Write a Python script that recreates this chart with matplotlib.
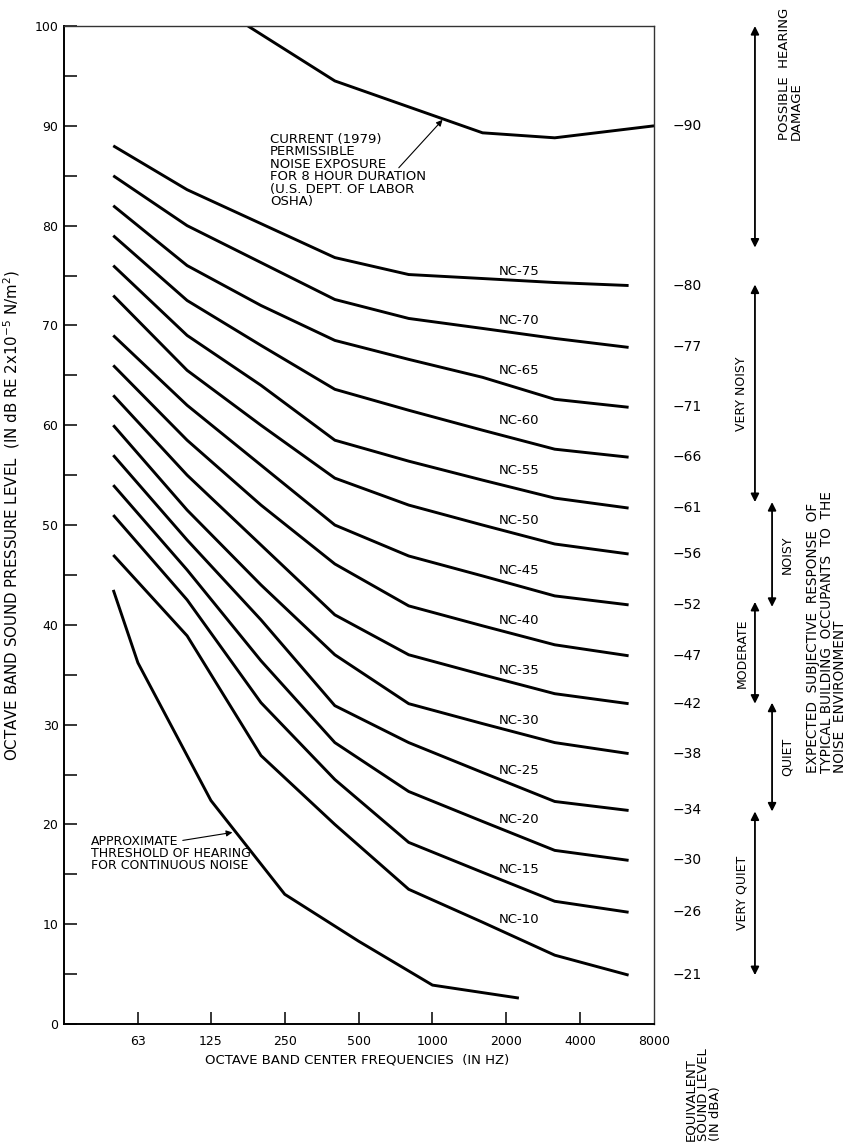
import matplotlib
matplotlib.use('Agg')
import matplotlib.pyplot as plt


# octave band points used for the NC curves (Hz)
band_freqs = [50, 100, 200, 400, 800, 1600, 3150, 6300]

nc_75 = [88, 83.6, 80.2, 76.8, 75.1, 74.7, 74.3, 74.0]
nc_70 = [85, 80.0, 76.3, 72.6, 70.7, 69.7, 68.7, 67.8]
nc_65 = [82, 76.0, 72.0, 68.5, 66.6, 64.8, 62.6, 61.8]
nc_60 = [79, 72.5, 68.0, 63.6, 61.5, 59.5, 57.6, 56.8]
nc_55 = [76, 69.0, 64.0, 58.5, 56.4, 54.5, 52.7, 51.7]
nc_50 = [73, 65.5, 60.0, 54.7, 52.0, 50.0, 48.1, 47.1]
nc_45 = [69, 62.0, 56.0, 50.0, 46.9, 44.9, 42.9, 42.0]
nc_40 = [66, 58.5, 52.0, 46.1, 41.9, 39.9, 38.0, 36.9]
nc_35 = [63, 55.0, 48.0, 41.0, 37.0, 35.0, 33.1, 32.1]
nc_30 = [60, 51.5, 44.0, 37.0, 32.1, 30.1, 28.2, 27.1]
nc_25 = [57, 48.5, 40.5, 31.9, 28.2, 25.2, 22.3, 21.4]
nc_20 = [54, 45.5, 36.4, 28.2, 23.3, 20.3, 17.4, 16.4]
nc_15 = [51, 42.5, 32.2, 24.5, 18.2, 15.2, 12.3, 11.2]
nc_10 = [47, 38.9, 26.9, 20.0, 13.5, 10.2, 6.9, 4.9]

nc_ratings = [75, 70, 65, 60, 55, 50, 45, 40, 35, 30, 25, 20, 15, 10]
nc_levels = [nc_75, nc_70, nc_65, nc_60, nc_55, nc_50, nc_45,
             nc_40, nc_35, nc_30, nc_25, nc_20, nc_15, nc_10]

# equivalent A-weighted level for each NC curve
dba_values = [80, 77, 71, 66, 61, 56, 52, 47, 42, 38, 34, 30, 26, 21]

# OSHA 8 hour permissible exposure (1979)
osha_freqs = [177, 400, 1600, 3150, 8000]
osha_levels = [100, 94.5, 89.3, 88.8, 90.0]
osha_dba = 90

# approximate threshold of hearing, continuous noise
threshold_freqs = [50, 63, 125, 250, 500, 1000, 2250]
threshold_levels = [43.5, 36.2, 22.4, 13.0, 8.3, 3.9, 2.6]

freq_ticks = [63, 125, 250, 500, 1000, 2000, 4000, 8000]

# subjective response bands
response_labels = ['VERY NOISY', 'NOISY', 'MODERATE', 'QUIET', 'VERY QUIET']
response_top = [74.1, 52.3, 42.3, 32.2, 21.3]
response_bottom = [52.3, 41.8, 32.1, 21.3, 4.9]
response_column = [0, 1, 0, 1, 0]


fig = plt.figure(figsize=(8.47, 11.42), dpi=100)
ax = fig.add_axes([0.0756, 0.1033, 0.6966, 0.8739])

line_kw = dict(color='black', linewidth=2.1, solid_joinstyle='miter', solid_capstyle='butt')

for rating, levels in zip(nc_ratings, nc_levels):
    ax.plot(band_freqs, levels, **line_kw)
    ax.text(2247, rating + 0.45, 'NC-%d' % rating, fontsize=9.5,
            ha='center', va='center')

ax.plot(osha_freqs, osha_levels, **line_kw)
ax.plot(threshold_freqs, threshold_levels, **line_kw)

ax.set_xscale('log', base=2)
ax.set_xlim(31.5, 8000)
ax.set_ylim(0, 100)
ax.set_xticks(freq_ticks)
ax.set_xticklabels([str(f) for f in freq_ticks])
ax.minorticks_off()
ax.set_yticks(range(0, 101, 10))
ax.set_yticks(range(5, 100, 10), minor=True)

ax.tick_params(axis='both', which='both', direction='in', length=9, width=1.1,
               labelsize=9)
ax.tick_params(axis='x', pad=8)
ax.tick_params(axis='y', pad=4)
ax.xaxis.get_major_ticks()[-1].tick1line.set_visible(False)
for side in ['left', 'bottom']:
    ax.spines[side].set_linewidth(1.4)
for side in ['top', 'right']:
    ax.spines[side].set_linewidth(1.0)
    ax.spines[side].set_color('#333333')

ax.set_xlabel('OCTAVE BAND CENTER FREQUENCIES  (IN HZ)', fontsize=9.5)
ax.xaxis.set_label_coords(0.497, -0.030)
ax.set_ylabel(r'OCTAVE BAND SOUND PRESSURE LEVEL  (IN dB RE 2x10$^{-5}$ N/m$^2$)',
              fontsize=10.8)
ax.yaxis.set_label_coords(-0.071, 0.51)

# callouts
ax.text(218, 89.3, 'CURRENT (1979)\nPERMISSIBLE\nNOISE EXPOSURE\nFOR 8 HOUR DURATION\n'
        '(U.S. DEPT. OF LABOR\nOSHA)', fontsize=9.5, ha='left', va='top',
        linespacing=0.95)
ax.annotate('', xy=(1099, 90.6), xytext=(729, 85.8),
            arrowprops=dict(arrowstyle='-|>', color='black', lw=0.8,
                            mutation_scale=9, shrinkA=0, shrinkB=0))

ax.text(40.6, 18.9, 'APPROXIMATE\nTHRESHOLD OF HEARING\nFOR CONTINUOUS NOISE',
        fontsize=9, ha='left', va='top', linespacing=0.9)
ax.annotate('', xy=(153, 19.2), xytext=(96, 18.4),
            arrowprops=dict(arrowstyle='-|>', color='black', lw=0.8,
                            mutation_scale=9, shrinkA=0, shrinkB=0))

# equivalent dBA scale on the right
ends = [levels[-1] for levels in nc_levels]
ax.text(1.031, osha_levels[-1], '\u2212%d' % osha_dba, transform=ax.get_yaxis_transform(),
        fontsize=10, ha='left', va='center')
for value, level in zip(dba_values, ends):
    ax.text(1.031, level, '\u2212%d' % value, transform=ax.get_yaxis_transform(),
            fontsize=10, ha='left', va='center')

arrow_kw = dict(arrowstyle='<|-|>', color='black', lw=1.3, mutation_scale=12,
                shrinkA=0, shrinkB=0)
arrow_x = [1.171, 1.200]
label_x = [1.149, 1.225]

ax.annotate('', xy=(1.171, 100), xytext=(1.171, 77.8),
            xycoords=('axes fraction', 'data'), textcoords=('axes fraction', 'data'),
            arrowprops=arrow_kw, annotation_clip=False)
ax.text(1.231, 88.6, 'POSSIBLE  HEARING\nDAMAGE', transform=ax.get_yaxis_transform(),
        rotation=90, fontsize=9.5, ha='center', va='bottom', multialignment='left',
        linespacing=0.9)

for label, top, bottom, col in zip(response_labels, response_top, response_bottom,
                                   response_column):
    ax.annotate('', xy=(arrow_x[col], top), xytext=(arrow_x[col], bottom),
                xycoords=('axes fraction', 'data'), textcoords=('axes fraction', 'data'),
                arrowprops=arrow_kw, annotation_clip=False)
    ax.text(label_x[col], (top + bottom) / 2, label, transform=ax.get_yaxis_transform(),
            rotation=90, fontsize=9, ha='center', va='center')

ax.text(1.293, 25.2, 'EXPECTED  SUBJECTIVE  RESPONSE  OF\nTYPICAL BUILDING  OCCUPANTS  TO  THE\n'
        'NOISE  ENVIRONMENT', transform=ax.get_yaxis_transform(), rotation=90,
        fontsize=9.8, ha='center', va='bottom', multialignment='left', linespacing=0.95)

fig.text(0.830, 0.001, 'EQUIVALENT\nSOUND LEVEL\n(IN dBA)', rotation=90, fontsize=9.5,
         ha='center', va='bottom', multialignment='left', linespacing=0.9)

fig.savefig('out.png', dpi=100, facecolor='white')
